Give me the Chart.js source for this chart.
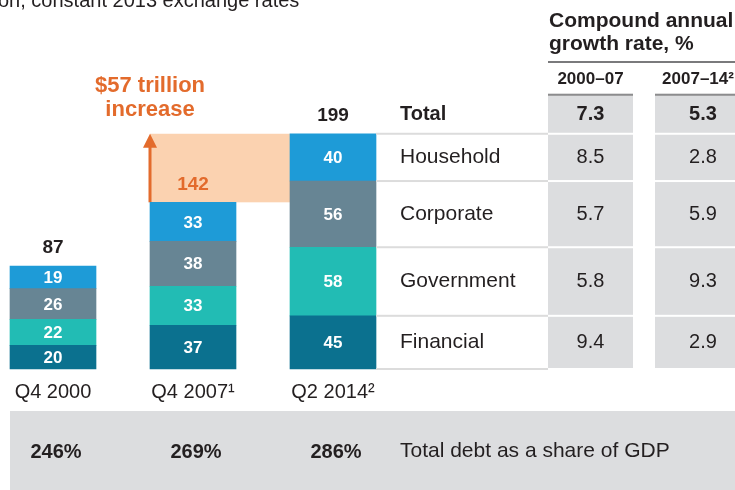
<!DOCTYPE html>
<html>
<head>
<meta charset="utf-8">
<script src="https://cdn.jsdelivr.net/npm/chart.js@4.4.0/dist/chart.umd.min.js"></script>
<style>
  body { margin: 0; background: #fff; }
  #wrap { width: 735px; height: 490px; }
</style>
</head>
<body>
<div id="wrap"><canvas id="debtChart" width="735" height="490"></canvas></div>
<script>
// debt by sector, $ trillion
var periods = ['Q4 2000', 'Q4 2007\u00b9', 'Q2 2014\u00b2'];
var financial = [20, 37, 45];
var government = [22, 33, 58];
var corporate = [26, 38, 56];
var household = [19, 33, 40];
var totalLabels = ['87', '142', '199'];
var gdpShare = ['246%', '269%', '286%'];

// growth table
var sectors = ['Household', 'Corporate', 'Government', 'Financial'];
var cagrPeriods = ['2000\u201307', '2007\u201314\u00b2'];
var cagrFirst = ['8.5', '5.7', '5.8', '9.4'];
var cagrSecond = ['2.8', '5.9', '9.3', '2.9'];
var totalCagr = ['7.3', '5.3'];

var FONT = '"Liberation Sans", Arial, Helvetica, sans-serif';
var DARK = '#231f20';
var ORANGE = '#e36b2c';
var BOX = '#dcdddf';

function font(size, bold) {
  return (bold ? 'bold ' : '') + size + 'px ' + FONT;
}

function text(ctx, str, x, y, f, color, align) {
  ctx.font = f;
  ctx.fillStyle = color;
  ctx.textAlign = align || 'center';
  ctx.textBaseline = 'middle';
  ctx.fillText(str, x, y);
}

var overlay = {
  id: 'overlay',
  beforeDatasetsDraw: function (chart) {
    var ctx = chart.ctx;
    var top = chart.getDatasetMeta(3).data;
    var left = top[1].x - top[1].width / 2;
    var right = top[2].x - top[2].width / 2;
    var y1 = top[2].y, y2 = top[1].y;
    ctx.save();
    ctx.fillStyle = '#fbd2b0';
    ctx.fillRect(left, y1, right - left, y2 - y1);
    // arrow
    ctx.strokeStyle = ORANGE;
    ctx.fillStyle = ORANGE;
    ctx.lineWidth = 3;
    ctx.beginPath();
    ctx.moveTo(left, y2);
    ctx.lineTo(left, y1 + 10);
    ctx.stroke();
    ctx.beginPath();
    ctx.moveTo(left, y1);
    ctx.lineTo(left - 7, y1 + 14);
    ctx.lineTo(left + 7, y1 + 14);
    ctx.closePath();
    ctx.fill();
    ctx.restore();
  },
  afterDatasetsDraw: function (chart) {
    var ctx = chart.ctx;
    var xs = chart.scales.x;
    ctx.save();

    // header text, cut at top
    ctx.font = font(20, false);
    var hidden = ctx.measureText('$ trilli').width;
    ctx.fillStyle = DARK;
    ctx.textAlign = 'left';
    ctx.textBaseline = 'alphabetic';
    ctx.fillText('$ trillion, constant 2013 exchange rates', -hidden - 2, 7);

    // segment labels
    chart.data.datasets.forEach(function (ds, i) {
      chart.getDatasetMeta(i).data.forEach(function (el, j) {
        text(ctx, String(ds.data[j]), el.x, (el.y + el.base) / 2 + 1, font(17, true), '#fff');
      });
    });

    // totals
    var topEls = chart.getDatasetMeta(3).data;
    topEls.forEach(function (el, j) {
      var c = j === 1 ? ORANGE : DARK;
      text(ctx, totalLabels[j], el.x, el.y - 18, font(19, true), c);
    });

    // increase annotation
    var arrowX = topEls[1].x - topEls[1].width / 2;
    text(ctx, '$57 trillion', arrowX, topEls[2].y - 48, font(22, true), ORANGE);
    text(ctx, 'increase', arrowX, topEls[2].y - 24, font(22, true), ORANGE);

    // table
    var last = topEls[2];
    var barRight = last.x + last.width / 2;
    var col1 = [548, 633], col2 = [655, 752];
    var rows = [];
    for (var k = 0; k < sectors.length; k++) {
      var el = chart.getDatasetMeta(3 - k).data[2];
      rows.push([el.y, el.base]);
    }
    var totalTop = rows[0][0] - 40;

    // grey boxes
    ctx.fillStyle = BOX;
    [col1, col2].forEach(function (c) {
      ctx.fillRect(c[0], totalTop, c[1] - c[0], rows[0][0] - 1 - totalTop);
      rows.forEach(function (r) {
        ctx.fillRect(c[0], r[0] + 1, c[1] - c[0], r[1] - r[0] - 2);
      });
    });
    ctx.fillStyle = '#8c8c8e';
    ctx.fillRect(col1[0], totalTop, col1[1] - col1[0], 2);
    ctx.fillRect(col2[0], totalTop, col2[1] - col2[0], 2);

    // row lines
    ctx.fillStyle = '#dcdcdc';
    ctx.fillRect(barRight, rows[0][0] - 1, col1[0] - barRight, 2);
    rows.forEach(function (r) {
      ctx.fillRect(barRight, r[1] - 1, col1[0] - barRight, 2);
    });

    // header
    text(ctx, 'Compound annual', 549, 21, font(21, true), DARK, 'left');
    text(ctx, 'growth rate, %', 549, 44, font(21, true), DARK, 'left');
    ctx.fillStyle = '#7a7a7c';
    ctx.fillRect(col1[0], 61, 735 - col1[0], 2);
    var c1 = (col1[0] + col1[1]) / 2, c2 = 703;
    text(ctx, cagrPeriods[0], c1, 79, font(17, true), DARK);
    text(ctx, cagrPeriods[1], c2 - 5, 79, font(17, true), DARK);

    var tMid = (totalTop + rows[0][0]) / 2 + 1;
    text(ctx, 'Total', 400, tMid, font(20, true), DARK, 'left');
    text(ctx, totalCagr[0], c1, tMid, font(20, true), DARK);
    text(ctx, totalCagr[1], c2, tMid, font(20, true), DARK);
    rows.forEach(function (r, k) {
      var m = (r[0] + r[1]) / 2;
      text(ctx, sectors[k], 400, m, font(21, false), DARK, 'left');
      text(ctx, cagrFirst[k], c1, m, font(20, false), DARK);
      text(ctx, cagrSecond[k], c2, m, font(20, false), DARK);
    });

    // GDP share band
    ctx.fillStyle = BOX;
    ctx.fillRect(10, 411, 725, 79);
    gdpShare.forEach(function (s, j) {
      text(ctx, s, xs.getPixelForValue(j) + 3, 452, font(20, true), DARK);
    });
    text(ctx, 'Total debt as a share of GDP', 400, 451, font(21, false), DARK, 'left');

    ctx.restore();
  }
};

var chart = new Chart(document.getElementById('debtChart'), {
  type: 'bar',
  data: {
    labels: periods,
    datasets: [
      { label: 'Financial', data: financial, backgroundColor: '#0b718f' },
      { label: 'Government', data: government, backgroundColor: '#22bcb4' },
      { label: 'Corporate', data: corporate, backgroundColor: '#678594' },
      { label: 'Household', data: household, backgroundColor: '#1e9bd7' }
    ]
  },
  options: {
    responsive: false,
    animation: false,
    devicePixelRatio: 1,
    layout: { padding: { left: 53, right: 402, top: 38, bottom: 81 } },
    datasets: { bar: { barThickness: 86, clip: false } },
    plugins: { legend: { display: false }, tooltip: { enabled: false } },
    scales: {
      x: {
        stacked: true,
        offset: false,
        grid: { display: false },
        border: { display: false },
        ticks: { color: DARK, font: { family: FONT, size: 20 }, padding: 3, maxRotation: 0 },
        afterFit: function (scale) { scale.height = 40; }
      },
      y: {
        stacked: true,
        display: false,
        min: 0,
        max: 280
      }
    }
  },
  plugins: [overlay]
});
</script>
</body>
</html>
